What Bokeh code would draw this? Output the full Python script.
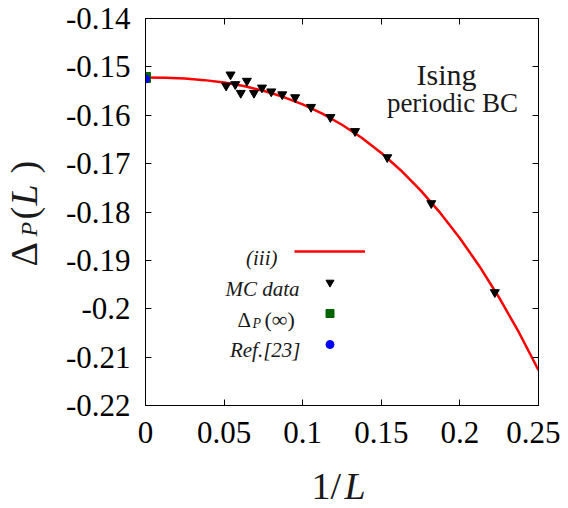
import math
from bokeh.plotting import figure
from bokeh.layouts import row, column
from bokeh.models import (Range1d, FixedTicker, LinearAxis, Label, Legend, LegendItem,
                          CustomJSTickFormatter)
from bokeh.core.properties import value
from bokeh.embed import file_html
from bokeh.resources import INLINE

# ---------------- data ----------------
inv_L = [0.2222, 0.1818, 0.1538, 0.1333, 0.1176, 0.1053, 0.0952, 0.0870,
         0.0800, 0.0741, 0.0690, 0.0645, 0.0606, 0.0571, 0.0541, 0.0513]
delta_mc = [-0.1966, -0.1782, -0.1687, -0.1633, -0.1604, -0.1583, -0.1563, -0.1557,
            -0.1551, -0.1543, -0.1554, -0.1529, -0.1554, -0.1536, -0.1516, -0.1539]

fit_x = [0.0, 0.0125, 0.025, 0.0375, 0.05, 0.0625, 0.075, 0.0875, 0.1, 0.1125, 0.125,
         0.1375, 0.15, 0.1625, 0.175, 0.1875, 0.2, 0.2125, 0.225, 0.2375, 0.25]
fit_y = [-0.1522, -0.15225, -0.15242, -0.15274, -0.15325, -0.15397, -0.15494, -0.15619,
         -0.15776, -0.15967, -0.16196, -0.16465, -0.16779, -0.17141, -0.17553, -0.18019,
         -0.18542, -0.19125, -0.19772, -0.20485, -0.2127]

extrap_x = [0.0]
extrap_y = [-0.1522]
ref_x = [0.0]
ref_y = [-0.1525]

x_ticks = [0.0, 0.05, 0.1, 0.15, 0.2, 0.25]
x_tick_labels = ["0", "0.05", "0.1", "0.15", "0.2", "0.25"]
y_ticks = [-0.22, -0.21, -0.2, -0.19, -0.18, -0.17, -0.16, -0.15, -0.14]
y_tick_labels = ["-0.22", "-0.21", "-0.2", "-0.19", "-0.18", "-0.17", "-0.16", "-0.15", "-0.14"]

legend_labels = ["(iii)", "MC data", "Ref.[23]"]
title_lines = ["Ising", "periodic BC"]

SERIF = "Liberation Serif"
SANS = "Liberation Sans Narrow"
TXT = "#1a1a1a"

# ---------------- main plot ----------------
p = figure(width=510, height=460, x_range=Range1d(0, 0.25), y_range=Range1d(-0.22, -0.14),
           output_backend="svg", toolbar_location=None,
           min_border_left=95, min_border_top=18, min_border_right=22, min_border_bottom=55)
p.xgrid.visible = False
p.ygrid.visible = False
p.outline_line_color = "black"
p.outline_line_width = 1


def style_axis(ax, ticks, labels, show_labels, standoff):
    ax.ticker = FixedTicker(ticks=ticks)
    ax.major_tick_in = 6
    ax.major_tick_out = 0
    ax.minor_tick_in = 0
    ax.minor_tick_out = 0
    ax.axis_line_color = "black"
    ax.major_tick_line_color = "black"
    if show_labels:
        ax.major_label_overrides = dict(zip(ticks, labels))
        ax.major_label_text_font = SANS
        ax.major_label_text_font_size = "31px"
        ax.major_label_text_color = "black"
        ax.major_label_standoff = standoff
    else:
        ax.formatter = CustomJSTickFormatter(code="return ''")
        ax.major_label_text_font_size = "1px"
        ax.major_label_standoff = 0


style_axis(p.xaxis[0], x_ticks, x_tick_labels, True, 16)
style_axis(p.yaxis[0], y_ticks, y_tick_labels, True, 15)
top = LinearAxis()
style_axis(top, x_ticks, x_tick_labels, False, 0)
p.add_layout(top, "above")
right = LinearAxis()
style_axis(right, y_ticks, y_tick_labels, False, 0)
p.add_layout(right, "right")

r_fit = p.line(fit_x, fit_y, line_color="#ff0000", line_width=2.5)
r_mc = p.scatter(inv_L, delta_mc, marker="inverted_triangle", size=9,
                 fill_color="black", line_color="black")
r_ex = p.scatter(extrap_x, extrap_y, marker="square", size=10,
                 fill_color="#006400", line_color="#006400")
r_ref = p.scatter(ref_x, ref_y, marker="circle", size=8,
                  fill_color="#0000ff", line_color="#0000ff")

legend = Legend(items=[LegendItem(label=value(""), renderers=[r]) for r in (r_fit, r_mc, r_ex, r_ref)],
                location=(149, 51), orientation="vertical", glyph_width=71, glyph_height=20,
                spacing=11, padding=0, margin=0, label_standoff=0, label_width=0, label_height=20,
                border_line_color=None, background_fill_alpha=0, label_text_font_size="1px")
p.add_layout(legend)


def lab(fig, x, y, text, size, align="left", italic=False, angle=0.0):
    fig.add_layout(Label(x=x, y=y, x_units="screen", y_units="screen", text=text,
                         text_font=SERIF, text_font_size=size, text_align=align,
                         text_baseline="alphabetic", angle=angle,
                         text_font_style="italic" if italic else "normal",
                         text_color=TXT))


# legend texts (relative to the frame's bottom-left corner)
lab(p, 132, 148, legend_labels[0], "21px", "right", True)
lab(p, 154, 117, legend_labels[1], "21px", "right", True)
lab(p, 92, 86, "Δ", "21px", "left")
lab(p, 107, 82, "P", "14px", "left", True)
lab(p, 119, 86, "(∞)", "22px", "left")
lab(p, 155, 56, legend_labels[2], "21px", "right", True)

# inset text
lab(p, 301, 331, title_lines[0], "30px", "center")
lab(p, 307, 303, title_lines[1], "27px", "center")


def blank(w, h):
    f = figure(width=w, height=h, x_range=Range1d(0, 1), y_range=Range1d(0, 1),
               output_backend="svg", toolbar_location=None, x_axis_type=None, y_axis_type=None,
               min_border=0, min_border_left=0, min_border_right=0, min_border_top=0,
               min_border_bottom=0)
    f.outline_line_color = None
    f.xgrid.visible = False
    f.ygrid.visible = False
    return f


# y axis label  Δ_P(L)  (rotated)
fy = blank(50, 460)
a = math.pi / 2
lab(fy, 23, 139, "Δ", "38px", "left", False, a)
lab(fy, 28, 169, "P", "24px", "left", True, a)
lab(fy, 23, 186, "(", "38px", "left", False, a)
lab(fy, 23, 200, "L", "38px", "left", True, a)
lab(fy, 23, 232, ")", "38px", "left", False, a)

# x axis label 1/L
fx = blank(560, 48)
lab(fx, 311, 23, "1/", "38px", "left")
lab(fx, 344, 23, "L", "38px", "left", True)

layout = column(row(fy, p, spacing=0), fx, spacing=0)

open("out.html", "w").write(file_html(layout, INLINE))
